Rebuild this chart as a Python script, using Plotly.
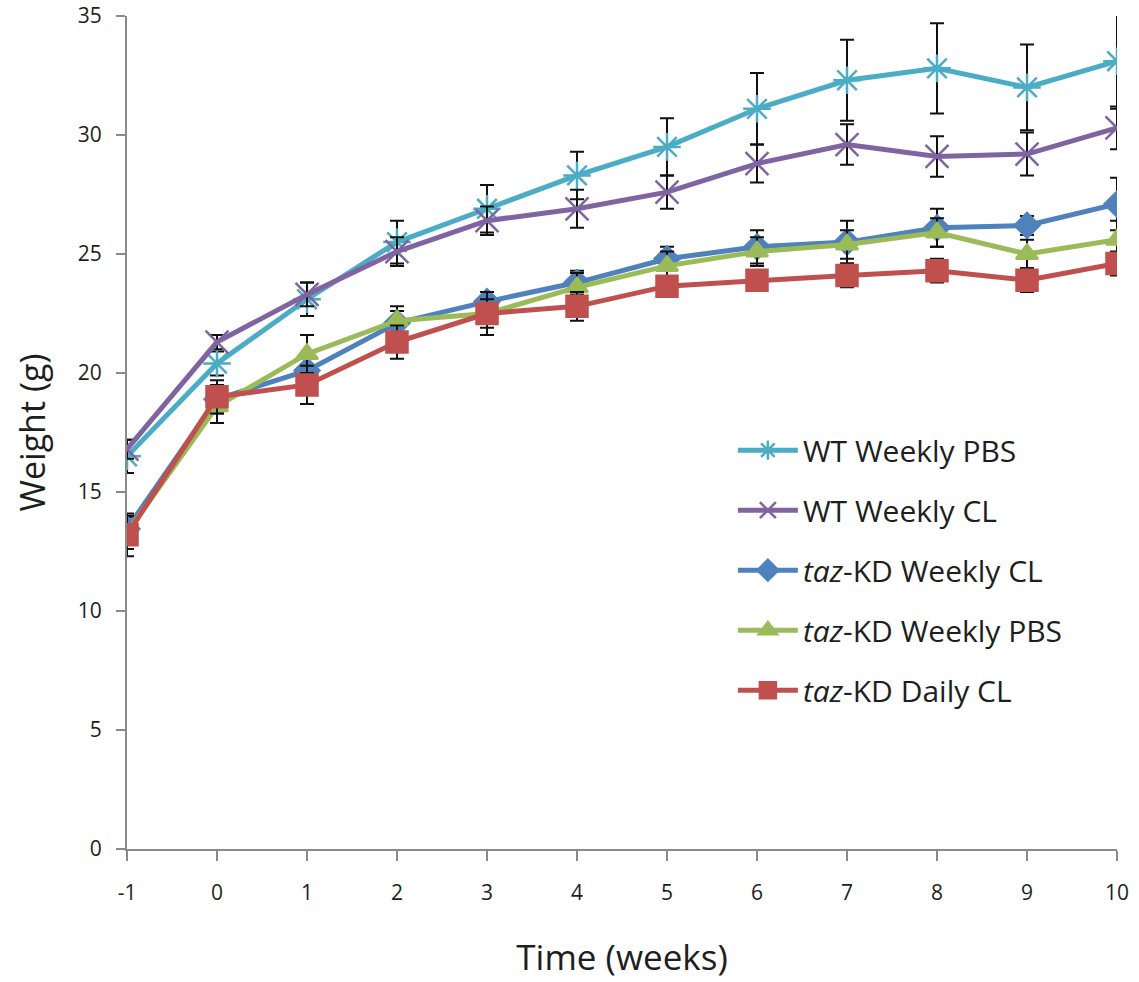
import plotly.graph_objects as go

weeks = [-1, 0, 1, 2, 3, 4, 5, 6, 7, 8, 9, 10]
week_labels = ["-1", "0", "1", "2", "3", "4", "5", "6", "7", "8", "9", "10"]
y_ticks = [0, 5, 10, 15, 20, 25, 30, 35]

names = ["WT Weekly PBS", "WT Weekly CL", "<i>taz</i>-KD Weekly CL",
         "<i>taz</i>-KD Weekly PBS", "<i>taz</i>-KD Daily CL"]

wt_pbs = [16.5, 20.4, 23.1, 25.5, 26.9, 28.3, 29.5, 31.1, 32.3, 32.8, 32.0, 33.1]
wt_pbs_err = [0.7, 0.5, 0.7, 0.9, 1.0, 1.0, 1.2, 1.5, 1.7, 1.9, 1.8, 2.0]

wt_cl = [16.8, 21.3, 23.3, 25.1, 26.4, 26.9, 27.6, 28.8, 29.6, 29.1, 29.2, 30.3]
wt_cl_err = [0.4, 0.3, 0.5, 0.6, 0.6, 0.8, 0.7, 0.8, 0.85, 0.85, 0.9, 0.9]

kd_wcl = [13.45, 18.9, 20.1, 22.1, 23.0, 23.8, 24.8, 25.3, 25.5, 26.1, 26.2, 27.1]
kd_wcl_err = [0.5, 0.6, 0.5, 0.5, 0.4, 0.5, 0.5, 0.7, 0.9, 0.8, 0.4, 1.1]

kd_wpbs = [13.3, 18.6, 20.8, 22.2, 22.5, 23.6, 24.5, 25.1, 25.4, 25.9, 25.0, 25.6]
kd_wpbs_err = [0.7, 0.7, 0.8, 0.6, 0.6, 0.6, 0.6, 0.6, 0.6, 0.6, 0.6, 0.8]

kd_dcl = [13.2, 19.0, 19.5, 21.3, 22.5, 22.8, 23.65, 23.9, 24.1, 24.3, 23.9, 24.6]
kd_dcl_err = [0.9, 0.7, 0.8, 0.7, 0.9, 0.6, 0.4, 0.4, 0.5, 0.5, 0.5, 0.5]

series = [wt_pbs, wt_cl, kd_wcl, kd_wpbs, kd_dcl]
errors = [wt_pbs_err, wt_cl_err, kd_wcl_err, kd_wpbs_err, kd_dcl_err]
colors = ["#4BACC6", "#8064A2", "#4F81BD", "#9BBB59", "#C0504D"]
symbols = ["asterisk-open", "x-thin-open", "diamond", "triangle-up", "square"]
sizes = [23, 23, 19, 19, 21]

fig = go.Figure()
for i, (nm, ys, er, c, s, sz) in enumerate(zip(names, series, errors, colors, symbols, sizes)):
    fig.add_trace(go.Scatter(
        x=weeks, y=ys, name=nm, mode="lines+markers",
        legendgroup=str(i),
        line=dict(color=c, width=5),
        marker=dict(symbol=s, size=sz, color=c, line=dict(color=c, width=2.5)),
        error_y=dict(type="data", array=er, visible=True, color="#111111",
                     thickness=2, width=7),
    ))

font = "Open Sans"
txt = "#1e1e1e"
fig.update_layout(
    width=1139, height=982,
    margin=dict(l=127, r=22, t=16, b=133),
    paper_bgcolor="white", plot_bgcolor="white",
    font=dict(family=font, color=txt),
    showlegend=True,
    legend=dict(x=0.612, y=0.51, xanchor="left", yanchor="top",
                font=dict(size=30, family=font, color=txt),
                traceorder="grouped", tracegroupgap=18, itemwidth=60,
                bgcolor="rgba(0,0,0,0)"),
    xaxis=dict(range=[-1, 10], tickvals=weeks, ticktext=week_labels, ticks="outside",
               ticklen=10, tickcolor="#8a8a8a", tickwidth=2, showline=True,
               linecolor="#8a8a8a", linewidth=2, showgrid=False, zeroline=False,
               automargin=False,
               tickfont=dict(size=21, family=font, color=txt),
               ticklabelstandoff=14,
               title=dict(text="Time (weeks)", font=dict(size=35, family=font, color=txt),
                          standoff=40)),
    yaxis=dict(range=[0, 35], tickvals=y_ticks, ticks="outside",
               ticklen=9, tickcolor="#8a8a8a", tickwidth=2, showline=True,
               linecolor="#8a8a8a", linewidth=2, showgrid=False, zeroline=False,
               automargin=False,
               tickfont=dict(size=21, family=font, color=txt),
               ticklabelstandoff=10,
               title=dict(text="Weight (g)", font=dict(size=34, family=font, color=txt),
                          standoff=22)),
)

fig.write_html("out.html")
